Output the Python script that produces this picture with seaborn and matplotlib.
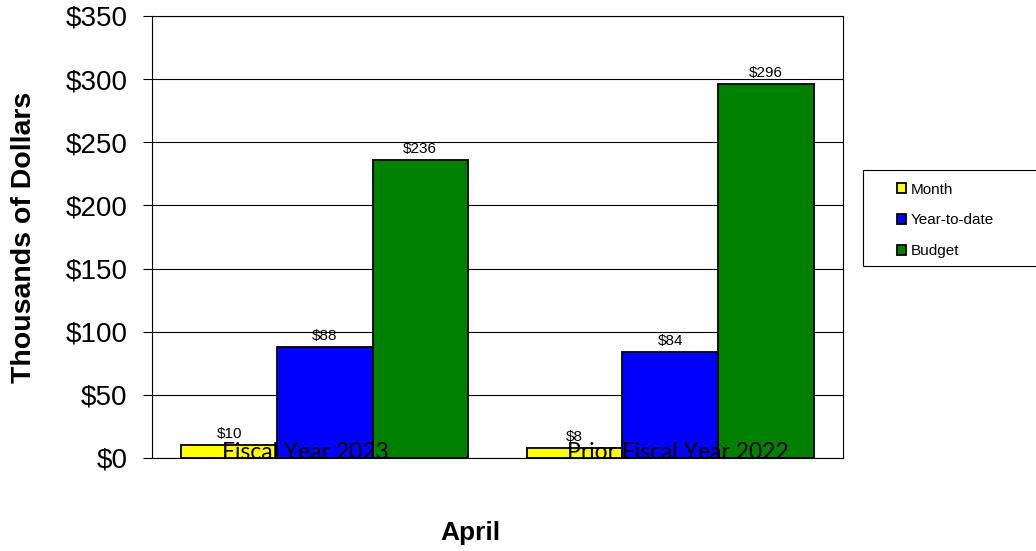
import pandas as pd
import matplotlib.pyplot as plt
import seaborn as sns
from matplotlib.patches import Rectangle

# --- data ---
groups = ['Fiscal Year 2023', 'Prior Fiscal Year 2022']
series = ['Month', 'Year-to-date', 'Budget']
month = [10, 8]
year_to_date = [88, 84]
budget = [236, 296]
colors = ['#ffff00', '#0000ff', '#008000']

df = pd.DataFrame({
    'group': groups * 3,
    'series': [s for s in series for _ in groups],
    'value': month + year_to_date + budget,
})

sns.set_style('white')
plt.rcParams['font.family'] = ['Liberation Sans', 'DejaVu Sans']
plt.rcParams['text.color'] = 'black'
plt.rcParams['axes.labelcolor'] = 'black'
plt.rcParams['xtick.color'] = 'black'
plt.rcParams['ytick.color'] = 'black'

fig = plt.figure(figsize=(10.36, 5.51), dpi=100)
ax = fig.add_axes([152 / 1036, 1 - 458 / 551, (843 - 152) / 1036, (458 - 16) / 551])

sns.barplot(data=df, x='group', y='value', hue='series', order=groups, hue_order=series,
            palette=colors, saturation=1, width=0.83, edgecolor='black', linewidth=1.3,
            ax=ax, legend=True, zorder=3)

for cont in ax.containers:
    vals = cont.datavalues
    ax.bar_label(cont, labels=[f'${v:g}' for v in vals], padding=3, fontsize=11, color='black')

ax.set_xlim(-0.5, 1.5)
ax.set_ylim(0, 350)
ax.set_yticks(range(0, 351, 50))
ax.set_yticklabels([f'${v}' for v in range(0, 351, 50)], fontsize=20)
ax.yaxis.grid(True, color='black', linewidth=0.8, zorder=0)
ax.set_axisbelow(True)
ax.tick_params(axis='y', length=6.5, width=0.8, color='black', left=True, pad=11)
ax.set_xticks([])
ax.set_xlabel('')
ax.set_ylabel('Thousands of Dollars', fontsize=20.5, fontweight='bold', labelpad=21)
for sp in ax.spines.values():
    sp.set_color('black')
    sp.set_linewidth(0.8)
    sp.set_visible(True)

# category labels sit on top of the bars like in the original export
ax.text(-0.055, 4, groups[0], fontsize=16.5, family=['Lato', 'DejaVu Sans'],
        ha='center', va='center', zorder=5)
ax.text(1.022, 4, groups[1], fontsize=16.5, family=['Lato', 'DejaVu Sans'],
        ha='center', va='center', zorder=5)

fig.text(470 / 1036, 1 - 533 / 551, 'April', fontsize=19, fontweight='bold',
         ha='center', va='center')

# legend box (runs off the right edge)
handles, labels = ax.get_legend_handles_labels()
ax.get_legend().remove()
fig.patches.append(Rectangle((863 / 1036, 1 - 266 / 551), 0.2, 96 / 551,
                             transform=fig.transFigure, facecolor='white',
                             edgecolor='black', linewidth=0.8))
leg = fig.legend(handles, labels, loc='upper left', bbox_to_anchor=(889 / 1036, 1 - 175 / 551),
                 frameon=False, fontsize=11, handlelength=0.6, handleheight=0.6,
                 handletextpad=0.35, labelspacing=1.1, borderpad=0)

fig.savefig('out.png', dpi=100)
